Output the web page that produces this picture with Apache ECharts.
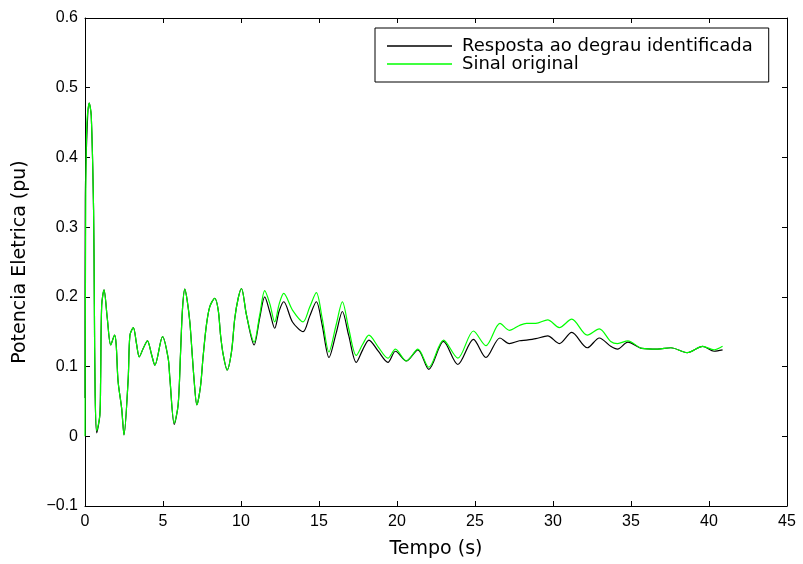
<!DOCTYPE html>
<html>
<head>
<meta charset="utf-8">
<script src="https://cdn.jsdelivr.net/npm/echarts@6/dist/echarts.min.js"></script>
<style>html,body{margin:0;padding:0;background:#fff}#c{width:803px;height:564px}</style>
</head>
<body>
<div id="c"></div>
<script>
// Time (s) and values (pu)
const tBlack = [0, 0.02, 0.15, 0.27, 0.4, 0.55, 0.6, 0.65, 0.75, 0.95, 1.0, 1.07, 1.22, 1.43, 1.65, 1.9, 2.0, 2.12, 2.35, 2.5, 2.77, 2.88, 3.1, 3.3, 3.48, 3.73, 4.0, 4.27, 4.48, 4.97, 5.33, 5.44, 5.72, 5.97, 6.12, 6.25, 6.4, 6.55, 6.72, 6.83, 7.0, 7.17, 7.4, 7.57, 7.78, 8.0, 8.32, 8.54, 8.69, 8.86, 9.11, 9.39, 9.6, 9.82, 10.03, 10.35, 10.84, 11.2, 11.52, 11.85, 12.16, 12.45, 12.74, 13.3, 13.98, 14.4, 14.83, 15.2, 15.64, 16.1, 16.5, 16.9, 17.39, 17.8, 18.2, 18.8, 19.42, 19.9, 20.6, 21.34, 22.04, 22.98, 23.9, 24.9, 25.7, 26.6, 27.2, 27.85, 28.3, 28.9, 29.66, 30.4, 31.2, 32.2, 32.97, 33.7, 34.14, 34.8, 35.7, 36.7, 37.56, 38.6, 39.6, 40.33, 40.87];
const vBlack = [0.055, 0.338, 0.449, 0.478, 0.46, 0.324, 0.19, 0.062, 0.005, 0.03, 0.079, 0.188, 0.21, 0.169, 0.131, 0.145, 0.131, 0.079, 0.04, 0.002, 0.083, 0.145, 0.156, 0.133, 0.114, 0.126, 0.137, 0.117, 0.102, 0.143, 0.112, 0.083, 0.017, 0.045, 0.117, 0.183, 0.211, 0.195, 0.164, 0.131, 0.079, 0.045, 0.071, 0.114, 0.159, 0.186, 0.198, 0.181, 0.145, 0.117, 0.095, 0.121, 0.169, 0.198, 0.212, 0.174, 0.131, 0.17, 0.2, 0.178, 0.155, 0.18, 0.193, 0.164, 0.15, 0.172, 0.193, 0.16, 0.113, 0.148, 0.179, 0.145, 0.106, 0.124, 0.138, 0.122, 0.106, 0.122, 0.108, 0.124, 0.096, 0.136, 0.103, 0.139, 0.113, 0.141, 0.133, 0.137, 0.138, 0.14, 0.144, 0.133, 0.149, 0.127, 0.141, 0.129, 0.125, 0.135, 0.126, 0.125, 0.127, 0.12, 0.129, 0.122, 0.124];
const tGreen = [0, 0.05, 0.12, 0.27, 0.4, 0.55, 0.6, 0.65, 0.75, 0.95, 1.0, 1.07, 1.22, 1.43, 1.65, 1.9, 2.0, 2.12, 2.35, 2.5, 2.77, 2.88, 3.1, 3.3, 3.48, 3.73, 4.0, 4.27, 4.48, 4.97, 5.33, 5.44, 5.72, 5.97, 6.12, 6.25, 6.4, 6.55, 6.72, 6.83, 7.0, 7.17, 7.4, 7.57, 7.78, 8.0, 8.32, 8.54, 8.69, 8.86, 9.11, 9.39, 9.6, 9.82, 10.03, 10.35, 10.84, 11.2, 11.52, 11.85, 12.16, 12.45, 12.74, 13.3, 13.98, 14.4, 14.83, 15.2, 15.64, 16.1, 16.5, 16.9, 17.39, 17.8, 18.2, 18.8, 19.42, 19.9, 20.6, 21.34, 22.04, 22.98, 23.9, 24.9, 25.7, 26.6, 27.2, 27.85, 28.3, 28.9, 29.66, 30.4, 31.2, 32.2, 32.97, 33.7, 34.14, 34.8, 35.7, 36.7, 37.56, 38.6, 39.6, 40.33, 40.87];
const vGreen = [0, 0.34, 0.45, 0.478, 0.46, 0.324, 0.19, 0.062, 0.008, 0.03, 0.079, 0.188, 0.21, 0.169, 0.131, 0.145, 0.131, 0.079, 0.04, 0.002, 0.083, 0.145, 0.156, 0.133, 0.114, 0.126, 0.137, 0.117, 0.102, 0.143, 0.112, 0.083, 0.019, 0.045, 0.117, 0.183, 0.211, 0.195, 0.164, 0.131, 0.079, 0.045, 0.071, 0.114, 0.159, 0.186, 0.198, 0.181, 0.145, 0.117, 0.095, 0.121, 0.169, 0.198, 0.212, 0.174, 0.135, 0.174, 0.209, 0.19, 0.164, 0.19, 0.205, 0.181, 0.164, 0.185, 0.206, 0.17, 0.121, 0.16, 0.193, 0.155, 0.116, 0.132, 0.145, 0.128, 0.112, 0.125, 0.108, 0.125, 0.099, 0.138, 0.112, 0.151, 0.13, 0.162, 0.152, 0.159, 0.162, 0.162, 0.167, 0.156, 0.168, 0.145, 0.154, 0.136, 0.133, 0.137, 0.126, 0.125, 0.127, 0.12, 0.129, 0.124, 0.129];
const seriesNames = ['Resposta ao degrau identificada', 'Sinal original'];
const xTicks = [0, 5, 10, 15, 20, 25, 30, 35, 40, 45];
const yTicks = [-0.1, 0, 0.1, 0.2, 0.3, 0.4, 0.5, 0.6];

const TICKFONT = 'Liberation Sans';
const FONT = 'DejaVu Sans';
function fmtY(v) {
  const r = Math.round(v * 10) / 10;
  if (r === 0) return '0';
  return (r < 0 ? '\u2212' : '') + Math.abs(r).toFixed(1);
}
const chart = echarts.init(document.getElementById('c'), null, {renderer: 'canvas'});
const axisLine = {show: true, onZero: false, lineStyle: {color: '#000', width: 1}};
const tickStyle = {show: true, inside: true, length: 5, lineStyle: {color: '#000', width: 1}};
chart.setOption({
  animation: false,
  backgroundColor: '#fff',
  grid: {left: 85, right: 16, top: 18, bottom: 56, containLabel: false},
  legend: {
    data: seriesNames,
    orient: 'vertical',
    left: 375, top: 28,
    backgroundColor: '#fff',
    borderColor: '#000', borderWidth: 1, borderRadius: 0,
    padding: [9, 16, 9, 12],
    itemGap: 0,
    icon: 'rect',
    itemWidth: 65, itemHeight: 1.3,
    textStyle: {fontFamily: FONT, fontSize: 18, lineHeight: 18, color: '#000', padding: [0, 0, 0, 5]}
  },
  xAxis: [{
    type: 'value', min: xTicks[0], max: xTicks[xTicks.length - 1], interval: 5,
    name: 'Tempo (s)', nameLocation: 'middle', nameGap: 34,
    nameTextStyle: {fontFamily: FONT, fontSize: 19, color: '#000'},
    axisLine: axisLine, axisTick: tickStyle, splitLine: {show: false},
    axisLabel: {fontFamily: TICKFONT, fontSize: 16, color: '#000', margin: 8}
  }, {
    type: 'value', position: 'top', min: xTicks[0], max: xTicks[xTicks.length - 1], interval: 5,
    axisLine: axisLine, axisTick: tickStyle, splitLine: {show: false}, axisLabel: {show: false}
  }],
  yAxis: [{
    type: 'value', min: yTicks[0], max: yTicks[yTicks.length - 1], interval: 0.1,
    name: 'Potencia Eletrica (pu)', nameLocation: 'middle', nameGap: 55,
    nameTextStyle: {fontFamily: FONT, fontSize: 19, color: '#000'},
    axisLine: axisLine, axisTick: tickStyle, splitLine: {show: false},
    axisLabel: {fontFamily: TICKFONT, fontSize: 16, color: '#000', margin: 7, formatter: fmtY}
  }, {
    type: 'value', position: 'right', min: yTicks[0], max: yTicks[yTicks.length - 1], interval: 0.1,
    axisLine: axisLine, axisTick: tickStyle, splitLine: {show: false}, axisLabel: {show: false}
  }],
  series: [{
    name: seriesNames[0], type: 'line', symbol: 'none', smooth: 0.3,
    lineStyle: {color: '#000', width: 1.2}, itemStyle: {color: '#000'},
    data: tBlack.map((t, i) => [t, vBlack[i]])
  }, {
    name: seriesNames[1], type: 'line', symbol: 'none', smooth: 0.3,
    lineStyle: {color: '#00ff00', width: 1.2}, itemStyle: {color: '#00ff00'},
    data: tGreen.map((t, i) => [t, vGreen[i]])
  }]
});
</script>
</body>
</html>
